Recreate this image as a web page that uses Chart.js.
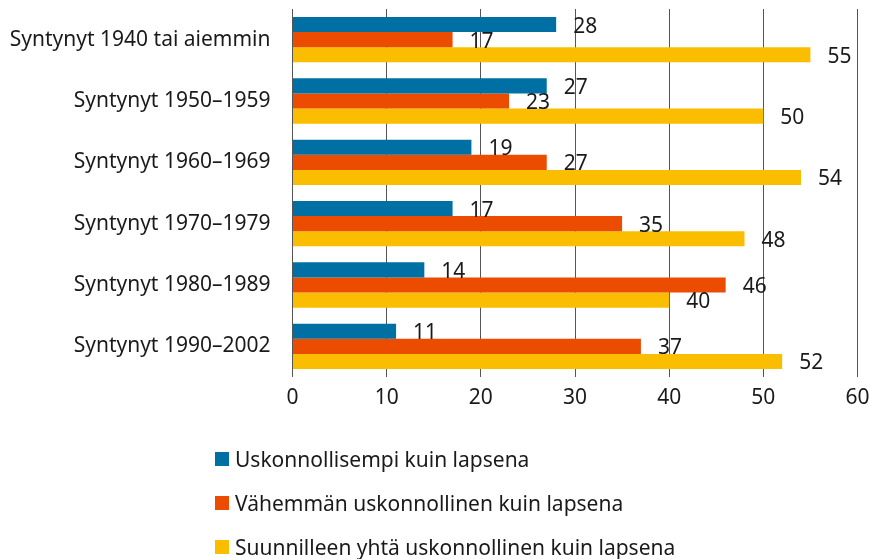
<!DOCTYPE html>
<html>
<head>
<meta charset="utf-8">
<script src="https://cdn.jsdelivr.net/npm/chart.js@4"></script>
<style>
    body { margin: 0; background: #fff; font-family: "Noto Sans", sans-serif; }
    #wrap { position: relative; width: 869px; height: 559px; }
    #legend { position: absolute; left: 215px; top: 446px; color: #1a1a1a; font-size: 21px; }
    .item { height: 44px; display: flex; align-items: flex-start; white-space: nowrap; }
    .item span.box { width: 14px; height: 14px; margin-right: 6px; margin-top: 6px; flex: none; }
    .item span.txt { line-height: 26px; }
</style>
</head>
<body>
<div id="wrap">
    <canvas id="chart" width="869" height="559"></canvas>
    <div id="legend"></div>
</div>
<script>
// --- data ---
const categories = [
    'Syntynyt 1940 tai aiemmin',
    'Syntynyt 1950–1959',
    'Syntynyt 1960–1969',
    'Syntynyt 1970–1979',
    'Syntynyt 1980–1989',
    'Syntynyt 1990–2002'
];
const seriesNames = [
    'Uskonnollisempi kuin lapsena',
    'Vähemmän uskonnollinen kuin lapsena',
    'Suunnilleen yhtä uskonnollinen kuin lapsena'
];
const moreReligious = [28, 27, 19, 17, 14, 11];
const lessReligious = [17, 23, 27, 35, 46, 37];
const sameReligious = [55, 50, 54, 48, 40, 52];
const xTicks = [0, 10, 20, 30, 40, 50, 60];

const colors = ['#006fa3', '#eb4c00', '#fbbd00'];
const textColor = '#1a1a1a';

// numbers next to the bar ends
const valueLabels = {
    id: 'valueLabels',
    afterDatasetsDraw(chart) {
        const ctx = chart.ctx;
        ctx.save();
        ctx.font = '21px "Noto Sans"';
        ctx.fillStyle = textColor;
        ctx.textAlign = 'left';
        ctx.textBaseline = 'middle';
        chart.data.datasets.forEach((ds, i) => {
            chart.getDatasetMeta(i).data.forEach((bar, j) => {
                ctx.fillText(String(ds.data[j]), bar.x + 17, bar.y + 2);
            });
        });
        ctx.restore();
    }
};

function initChart() {
    const ctx = document.getElementById('chart').getContext('2d');
    const data = [moreReligious, lessReligious, sameReligious];

    new Chart(ctx, {
        type: 'bar',
        data: {
            labels: categories,
            datasets: seriesNames.map((name, i) => ({
                label: name,
                data: data[i],
                backgroundColor: colors[i],
                borderWidth: 0,
                barPercentage: 1,
                categoryPercentage: 0.74
            }))
        },
        options: {
            indexAxis: 'y',
            responsive: false,
            animation: false,
            layout: { padding: { top: 9, right: 11.5, bottom: 142, left: 0 } },
            scales: {
                x: {
                    min: 0,
                    max: 60,
                    afterBuildTicks: (scale) => { scale.ticks = xTicks.map(v => ({ value: v })); },
                    afterFit: (scale) => {
                        scale.height = 40;
                        scale.paddingLeft = 0;
                        scale.paddingRight = 0;
                    },
                    grid: { color: '#555', lineWidth: 1, drawTicks: false },
                    border: { display: false },
                    ticks: {
                        padding: 8,
                        color: textColor,
                        font: { family: 'Noto Sans', size: 21 }
                    }
                },
                y: {
                    afterFit: (scale) => {
                        scale.width = 292.5;
                        scale.paddingTop = 0;
                        scale.paddingBottom = 0;
                    },
                    grid: { display: false, drawTicks: false },
                    border: { display: false },
                    ticks: {
                        padding: 22,
                        color: textColor,
                        font: { family: 'Noto Sans', size: 21 }
                    }
                }
            },
            plugins: {
                legend: { display: false },
                tooltip: { enabled: false }
            }
        },
        plugins: [valueLabels]
    });

    // legend as a simple list under the chart
    const legend = document.getElementById('legend');
    seriesNames.forEach((name, i) => {
        const row = document.createElement('div');
        row.className = 'item';
        row.innerHTML = `<span class="box" style="background:${colors[i]}"></span><span class="txt">${name}</span>`;
        legend.appendChild(row);
    });
}

initChart();
</script>
</body>
</html>
